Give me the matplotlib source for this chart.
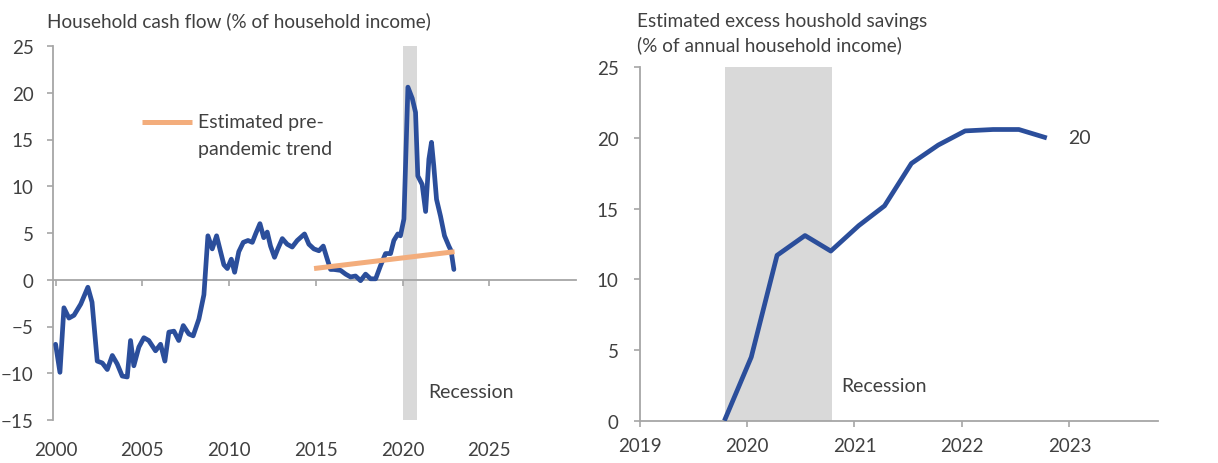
import matplotlib
matplotlib.use("Agg")
import matplotlib.pyplot as plt
from matplotlib.lines import Line2D

plt.rcParams['font.family'] = ['Lato', 'DejaVu Sans']

# ---- Household cash flow (% of household income) ----
cash_years = [
    2000.00, 2000.25, 2000.48, 2000.77, 2001.06, 2001.45, 2001.86, 2002.10,
    2002.40, 2002.69, 2002.98, 2003.27, 2003.55, 2003.84, 2004.13, 2004.32,
    2004.51, 2004.80, 2005.09, 2005.37, 2005.76, 2006.05, 2006.30, 2006.53,
    2006.82, 2007.10, 2007.36, 2007.68, 2007.93, 2008.26, 2008.55, 2008.78,
    2009.03, 2009.28, 2009.51, 2009.70, 2009.90, 2010.13, 2010.32, 2010.56,
    2010.82, 2011.09, 2011.34, 2011.53, 2011.78, 2012.00, 2012.20, 2012.39,
    2012.62, 2012.81, 2013.07, 2013.35, 2013.64, 2013.93, 2014.35, 2014.60,
    2014.89, 2015.18, 2015.43, 2015.66, 2015.85, 2016.04, 2016.43, 2016.72,
    2017.00, 2017.29, 2017.58, 2017.87, 2018.16, 2018.45, 2018.73, 2019.02,
    2019.31, 2019.50, 2019.73, 2019.88, 2020.08, 2020.31, 2020.56, 2020.75,
    2020.88, 2021.13, 2021.33, 2021.52, 2021.67, 2021.80, 2021.96, 2022.19,
    2022.42, 2022.67, 2022.80, 2022.96,
]
cash_flow = [
    -6.9, -9.9, -3.0, -4.1, -3.8, -2.6, -0.8, -2.4,
    -8.7, -8.9, -9.6, -8.1, -9.0, -10.3, -10.4, -6.5,
    -9.2, -7.2, -6.2, -6.5, -7.6, -6.9, -8.7, -5.6,
    -5.5, -6.5, -4.9, -5.8, -6.0, -4.2, -1.6, 4.7,
    3.3, 4.7, 3.0, 1.6, 1.2, 2.2, 0.8, 3.0,
    4.0, 4.2, 4.0, 4.9, 6.0, 4.5, 5.1, 3.6,
    2.4, 3.3, 4.4, 3.8, 3.5, 4.2, 4.9, 3.8,
    3.3, 3.1, 3.6, 2.2, 1.1, 1.1, 1.0, 0.6,
    0.3, 0.4, -0.1, 0.6, 0.1, 0.1, 1.5, 2.8,
    2.8, 4.2, 4.9, 4.7, 6.5, 20.6, 19.4, 17.9,
    11.1, 10.2, 7.3, 12.9, 14.7, 12.2, 8.6, 6.8,
    4.7, 3.6, 3.1, 1.1,
]
trend_years = [2014.9, 2023.0]
trend_values = [1.2, 3.0]
cash_recession = [2020.02, 2020.81]
cash_xticks = [2000, 2005, 2010, 2015, 2020, 2025]
cash_yticks = [-15, -10, -5, 0, 5, 10, 15, 20, 25]

# ---- Estimated excess household savings (% of annual household income) ----
sav_dates = [2019.79, 2020.04, 2020.28, 2020.54, 2020.78, 2021.04, 2021.28,
             2021.53, 2021.78, 2022.03, 2022.29, 2022.53, 2022.79]
sav_values = [0.0, 4.5, 11.7, 13.1, 12.0, 13.8, 15.2,
              18.2, 19.5, 20.5, 20.6, 20.6, 20.0]
sav_recession = [2019.80, 2020.79]
sav_xticks = [2019, 2020, 2021, 2022, 2023]
sav_yticks = [0, 5, 10, 15, 20, 25]

BLUE = '#2B4E9B'
ORANGE = '#F3AD7C'
BAND = '#D9D9D9'
AXIS = '#A6A6A6'
TEXT = '#404040'
TICK_FS = 13.5
LABEL_FS = 14
TITLE_FS = 13.7

W, H = 1218, 464
fig = plt.figure(figsize=(W / 100, H / 100), dpi=100)

# ---------------- left panel ----------------
axL = fig.add_axes([53 / W, 43 / H, 523 / W, 374 / H])
axL.axvspan(*cash_recession, color=BAND, lw=0, zorder=1)
axL.plot(cash_years, cash_flow, color=BLUE, lw=3.4, zorder=3,
         solid_joinstyle='round', solid_capstyle='round')
axL.plot(trend_years, trend_values, color=ORANGE, lw=3.6, zorder=4,
         solid_capstyle='butt')
axL.set_xlim(1999.85, 2030)
axL.set_ylim(-15, 25)
axL.set_yticks(cash_yticks)
axL.set_xticks(cash_xticks)
for s in ['top', 'right']:
    axL.spines[s].set_visible(False)
axL.spines['bottom'].set_position(('data', 0))
for s in ['left', 'bottom']:
    axL.spines[s].set_color(AXIS)
    axL.spines[s].set_linewidth(1.3)
axL.tick_params(axis='x', direction='out', length=4, width=1.2, color=AXIS,
                labelbottom=False)
axL.tick_params(axis='y', direction='out', length=4, width=1.2, color=AXIS,
                labelsize=TICK_FS, labelcolor=TEXT, pad=10)
secL = axL.secondary_xaxis('bottom')
secL.set_xticks(cash_xticks)
secL.spines['bottom'].set_visible(False)
secL.tick_params(length=0, pad=15, labelsize=TICK_FS, labelcolor=TEXT)

# legend key for the trend line
axL.add_line(Line2D([0.170, 0.266], [0.797, 0.797], transform=axL.transAxes,
                    color=ORANGE, lw=3.6, solid_capstyle='butt'))
axL.text(0.277, 0.797, 'Estimated pre-', transform=axL.transAxes,
         fontsize=LABEL_FS, color=TEXT, va='center', ha='left')
axL.text(0.277, 0.725, 'pandemic trend', transform=axL.transAxes,
         fontsize=LABEL_FS, color=TEXT, va='center', ha='left')
axL.text(2021.5, -12.0, 'Recession', fontsize=LABEL_FS, color=TEXT,
         va='center', ha='left')

fig.text(47 / W, 1 - 21 / H, 'Household cash flow (% of household income)',
         fontsize=TITLE_FS, color=TEXT, va='center', ha='left')

# ---------------- right panel ----------------
axR = fig.add_axes([639.5 / W, 42.3 / H, 518 / W, 353.4 / H])
axR.axvspan(*sav_recession, color=BAND, lw=0, zorder=1)
axR.plot(sav_dates, sav_values, color=BLUE, lw=3.4, zorder=3,
         solid_joinstyle='round', solid_capstyle='butt')
axR.set_xlim(2019, 2023.82)
axR.set_ylim(0, 25)
axR.set_xticks(sav_xticks)
axR.set_yticks(sav_yticks)
for s in ['top', 'right']:
    axR.spines[s].set_visible(False)
for s in ['left', 'bottom']:
    axR.spines[s].set_color(AXIS)
    axR.spines[s].set_linewidth(1.3)
axR.tick_params(axis='x', direction='out', length=4, width=1.2, color=AXIS,
                labelsize=TICK_FS, labelcolor=TEXT, pad=8)
axR.tick_params(axis='y', direction='out', length=4, width=1.2, color=AXIS,
                labelsize=TICK_FS, labelcolor=TEXT, pad=11)
axR.text(2022.99, sav_values[-1], f'{sav_values[-1]:.0f}', fontsize=LABEL_FS,
         color=TEXT, va='center', ha='left')
axR.text(2020.88, 2.5, 'Recession', fontsize=LABEL_FS, color=TEXT,
         va='center', ha='left')

fig.text(637 / W, 1 - 21 / H, 'Estimated excess houshold savings',
         fontsize=TITLE_FS, color=TEXT, va='center', ha='left')
fig.text(637 / W, 1 - 45 / H, '(% of annual household income)',
         fontsize=TITLE_FS, color=TEXT, va='center', ha='left')

fig.savefig('out.png', dpi=100, facecolor='white')
